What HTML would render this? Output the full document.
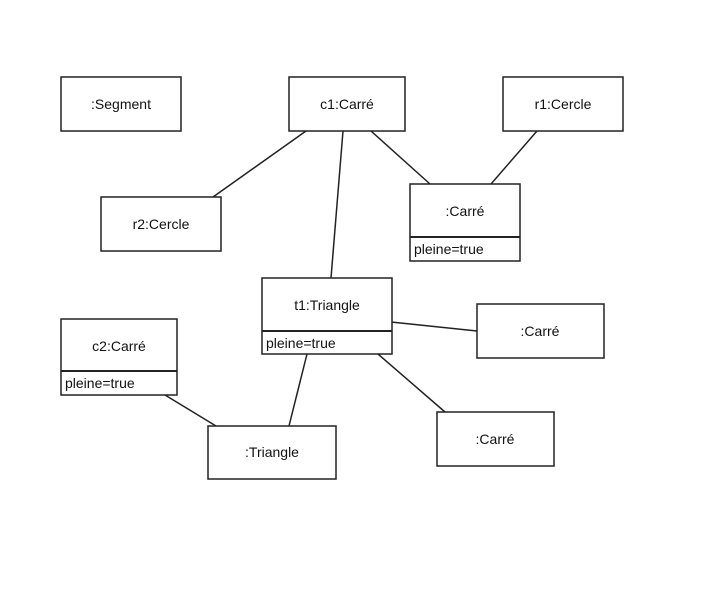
<!DOCTYPE html>
<html><head><meta charset="utf-8"><style>
body{margin:0;background:#fff;}
svg text{font-family:"Liberation Sans",sans-serif;font-size:14px;fill:#111;}
</style></head><body>
<svg width="720" height="610" xmlns="http://www.w3.org/2000/svg">
<g stroke="#222" stroke-width="1.5" fill="none">
<line x1="306" y1="131" x2="213" y2="197"/>
<line x1="343" y1="131" x2="331" y2="278"/>
<line x1="371" y1="131" x2="430" y2="184"/>
<line x1="537" y1="131" x2="491" y2="184"/>
<line x1="391" y1="322" x2="477" y2="331"/>
<line x1="378" y1="354" x2="445" y2="412"/>
<line x1="307" y1="354" x2="289" y2="426"/>
<line x1="165" y1="395" x2="216" y2="426"/>
</g>
<g stroke="#222" stroke-width="1.5" fill="#fff">
<rect x="61" y="77" width="120" height="54"/>
<rect x="289" y="77" width="116" height="54"/>
<rect x="503" y="77" width="120" height="54"/>
<rect x="101" y="197" width="120" height="54"/>
<rect x="410" y="184" width="110" height="77"/>
<line x1="410" y1="237" x2="520" y2="237" stroke-width="2"/>
<rect x="262" y="278" width="130" height="76"/>
<line x1="262" y1="331" x2="392" y2="331" stroke-width="2"/>
<rect x="477" y="304" width="127" height="54"/>
<rect x="61" y="319" width="116" height="76"/>
<line x1="61" y1="371" x2="177" y2="371" stroke-width="2"/>
<rect x="208" y="426" width="128" height="53"/>
<rect x="437" y="412" width="117" height="54"/>
</g>
<g text-anchor="middle">
<text x="121" y="109">:Segment</text>
<text x="347" y="109">c1:Carré</text>
<text x="563" y="109">r1:Cercle</text>
<text x="161" y="229">r2:Cercle</text>
<text x="465" y="216">:Carré</text>
<text x="327" y="310">t1:Triangle</text>
<text x="540" y="336">:Carré</text>
<text x="119" y="351">c2:Carré</text>
<text x="272" y="457">:Triangle</text>
<text x="495" y="444">:Carré</text>
</g>
<text x="414" y="254">pleine=true</text>
<text x="266" y="348">pleine=true</text>
<text x="65" y="388">pleine=true</text>
</svg>
</body></html>
